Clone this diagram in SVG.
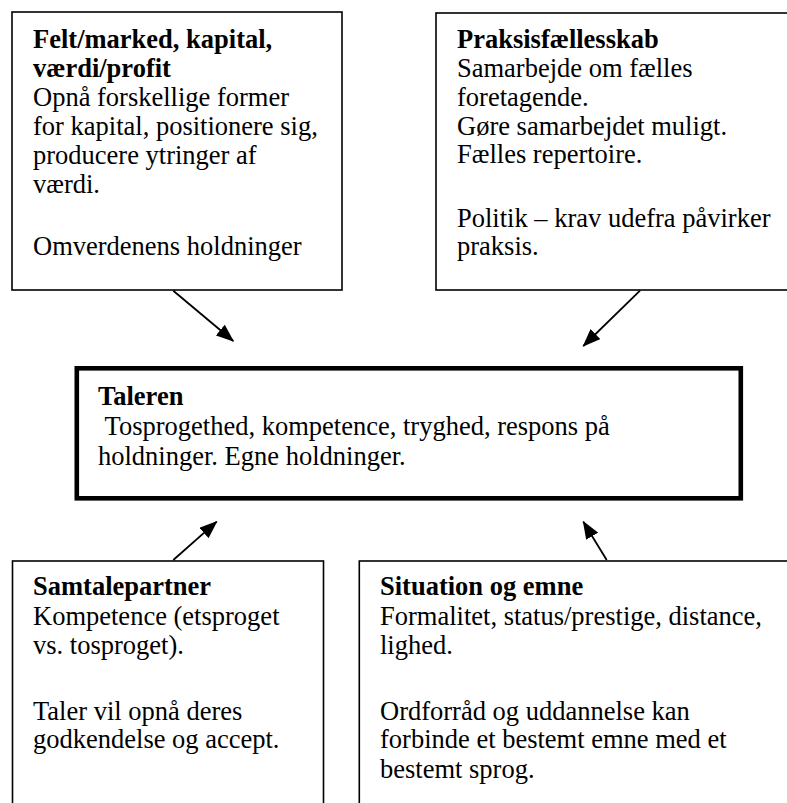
<svg xmlns="http://www.w3.org/2000/svg" width="787" height="803" viewBox="0 0 787 803">
<style>
  text { font-family: "Liberation Serif", "Times New Roman", serif; font-size: 26.5px; fill: #000; }
  .b { font-weight: bold; }
  .box { fill: #fff; stroke: #000; stroke-width: 1.6; }
  .main { fill: #fff; stroke: #000; stroke-width: 4.6; }
  .arrow { stroke: #000; stroke-width: 1.8; fill: none; marker-end: url(#ah); }
</style>
<defs>
  <marker id="ah" viewBox="0 0 18 14" refX="17" refY="7" markerWidth="18" markerHeight="14" markerUnits="userSpaceOnUse" orient="auto">
    <path d="M0,0 L18,7 L0,14 z" fill="#000"/>
  </marker>
</defs>
<rect width="787" height="803" fill="#fff"/>

<g id="felt">
  <rect class="box" x="12" y="12" width="330" height="278"/>
  <text x="33" y="48" class="b">Felt/marked, kapital,</text>
  <text x="33" y="77" class="b">værdi/profit</text>
  <text x="33" y="106">Opnå forskellige former</text>
  <text x="33" y="135">for kapital, positionere sig,</text>
  <text x="33" y="164">producere ytringer af</text>
  <text x="33" y="193">værdi.</text>
  <text x="33" y="255">Omverdenens holdninger</text>
</g>

<g id="praksis">
  <rect class="box" x="436" y="13" width="360" height="277"/>
  <text x="457" y="48" class="b">Praksisfællesskab</text>
  <text x="457" y="77">Samarbejde om fælles</text>
  <text x="457" y="106">foretagende.</text>
  <text x="457" y="135">Gøre samarbejdet muligt.</text>
  <text x="457" y="163">Fælles repertoire.</text>
  <text x="457" y="227">Politik – krav udefra påvirker</text>
  <text x="457" y="255">praksis.</text>
</g>

<g id="taleren">
  <rect class="main" x="76.8" y="368.3" width="664" height="130"/>
  <text x="98" y="405" class="b">Taleren</text>
  <text x="104.6" y="435">Tosprogethed, kompetence, tryghed, respons på</text>
  <text x="98" y="465">holdninger. Egne holdninger.</text>
</g>

<g id="samtalepartner">
  <rect class="box" x="12.5" y="561" width="311" height="260"/>
  <text x="33" y="595" class="b">Samtalepartner</text>
  <text x="33" y="625">Kompetence (etsproget</text>
  <text x="33" y="654">vs. tosproget).</text>
  <text x="33" y="720">Taler vil opnå deres</text>
  <text x="33" y="748">godkendelse og accept.</text>
</g>

<g id="situation">
  <rect class="box" x="359.3" y="561" width="440" height="260"/>
  <text x="380" y="595" class="b">Situation og emne</text>
  <text x="380" y="625">Formalitet, status/prestige, distance,</text>
  <text x="380" y="654">lighed.</text>
  <text x="380" y="720">Ordforråd og uddannelse kan</text>
  <text x="380" y="748">forbinde et bestemt emne med et</text>
  <text x="380" y="778">bestemt sprog.</text>
</g>

<g id="connectors">
  <line class="arrow" x1="173.3" y1="290.7" x2="233.3" y2="341"/>
  <line class="arrow" x1="640" y1="290.7" x2="583.3" y2="346"/>
  <line class="arrow" x1="173.3" y1="560" x2="216.7" y2="521.7"/>
  <line class="arrow" x1="606.7" y1="560" x2="583.3" y2="521.7"/>
</g>
</svg>
